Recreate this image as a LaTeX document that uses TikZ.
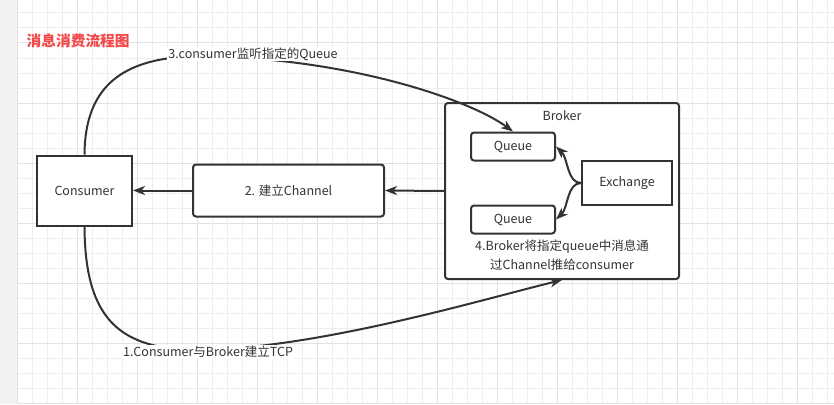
\documentclass[tikz,border=0pt]{standalone}
\usepackage{fontspec}
\setmainfont{Noto Sans CJK SC}
\usetikzlibrary{arrows.meta}
\definecolor{ink}{HTML}{333333}
\definecolor{gridminor}{HTML}{EEEEEE}
\definecolor{gridmajor}{HTML}{E2E2E2}
\definecolor{leftgray}{HTML}{F2F2F2}
\definecolor{titlered}{HTML}{F54848}
\tikzset{
  sharpbox/.style={draw=ink, line width=2pt, fill=white, text=ink, font=\fontsize{12.5}{15}\selectfont, inner sep=0pt},
  roundbox/.style={sharpbox, rounded corners=3pt},
  arr/.style={draw=ink, line width=2pt, -{Stealth[length=12pt,width=9pt,inset=3.5pt]}},
  edgelabel/.style={fill=white, text=ink, font=\fontsize{12.5}{15}\selectfont, inner sep=1pt},
  plaintext/.style={text=ink, font=\fontsize{12.5}{15}\selectfont, inner sep=0pt}
}
\begin{document}
\begin{tikzpicture}[x=1pt,y=-1pt]
\useasboundingbox (0,0) rectangle (834,404);
\fill[white] (0,0) rectangle (834,404);
\fill[leftgray] (0,0) rectangle (17,404);
% grid
\foreach \i in {0,...,54} {
  \draw[gridminor, line width=1pt] ({17+15*\i},0) -- ({17+15*\i},404);
}
\foreach \j in {0,...,26} {
  \draw[gridminor, line width=1pt] (17,{13+15*\j}) -- (834,{13+15*\j});
}
\foreach \i in {0,...,13} {
  \draw[gridmajor, line width=1pt] ({17+60*\i},0) -- ({17+60*\i},404);
}
\foreach \j in {0,...,6} {
  \draw[gridmajor, line width=1pt] (17,{43+60*\j}) -- (834,{43+60*\j});
}

% title
\node[text=titlered, font=\fontsize{14.7}{16}\selectfont\bfseries, anchor=west, inner sep=0pt] (title) at (26.5,41) {消息消费流程图};

% boxes
\node[sharpbox, minimum width=95pt, minimum height=70pt] (consumer) at (84.5,190.5) {Consumer};
\node[roundbox, minimum width=191pt, minimum height=52pt] (channel) at (288.5,190.5) {2. 建立Channel};
\node[roundbox, minimum width=234pt, minimum height=176pt] (broker) at (562,191) {};
\node[plaintext] (brokerlabel) at (562,116) {Broker};
\node[roundbox, minimum width=84pt, minimum height=28pt] (queue1) at (513,146.5) {Queue};
\node[roundbox, minimum width=84pt, minimum height=28pt] (queue2) at (513,219.5) {Queue};
\node[sharpbox, minimum width=90pt, minimum height=44pt] (exchange) at (627,183) {Exchange};
\node[plaintext, align=center, font=\fontsize{12.5}{19}\selectfont] (push) at (562,255.5) {4.Broker将指定queue中消息通\\过Channel推给consumer};

% connectors
\draw[arr] (broker.west) -- (channel.east);
\draw[arr] (channel.west) -- (consumer.east);
\draw[arr] (exchange.west) .. controls (567,183) and (568,158) .. (queue1.east);
\draw[arr] (exchange.west) .. controls (567,183) and (568,208) .. (queue2.east);

\draw[arr] (consumer.north) .. controls (85,80) and (130,57) .. (200,56) .. controls (350,58) and (470,100) .. (queue1.north);
\node[edgelabel] (l3) at (253,54) {3.consumer监听指定的Queue};

\draw[arr] (consumer.south) .. controls (85,320) and (120,350) .. (200,350) .. controls (320,348) and (480,300) .. (broker.south);
\node[edgelabel] (l1) at (208,352) {1.Consumer与Broker建立TCP};
\end{tikzpicture}
\end{document}
